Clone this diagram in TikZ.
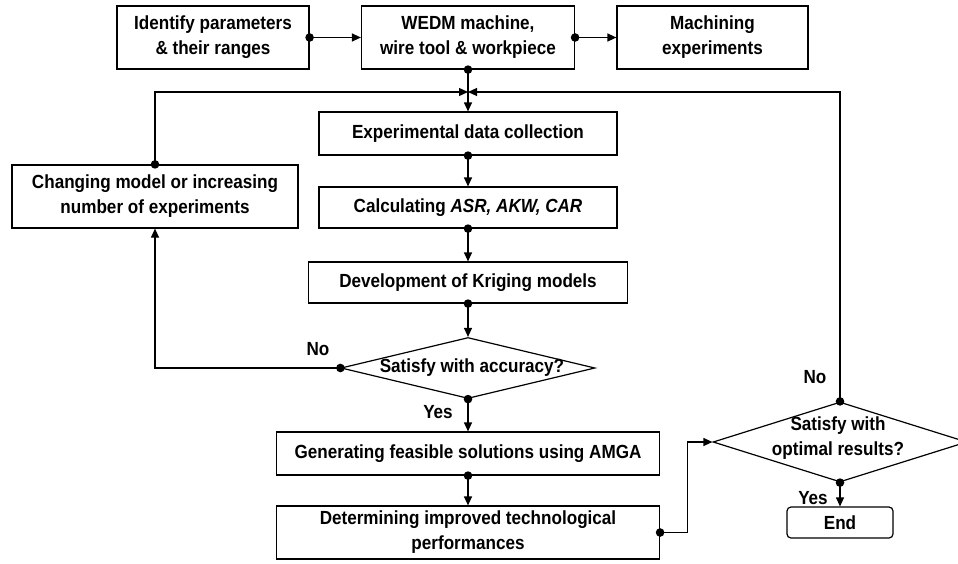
\documentclass[tikz,border=0pt]{standalone}
\usepackage{fontspec}
\setmainfont{Liberation Sans}[FakeStretch=0.9]
\usetikzlibrary{arrows.meta,shapes.geometric,calc}
\tikzset{
  box/.style={draw, line width=1.2pt, fill=white, inner sep=0pt, align=center,
    font=\fontsize{19}{25}\selectfont\bfseries},
  lbl/.style={inner sep=0pt, font=\fontsize{19}{25}\selectfont\bfseries},
  dia/.style={draw, diamond, line width=1.2pt, inner sep=0pt},
  conn/.style={line width=1.2pt, -{Triangle[length=9pt,width=8pt]}},
}
\newcommand{\jdot}[1]{\fill #1 circle (4.3pt);}
\begin{document}
\begin{tikzpicture}[x=1pt,y=-1pt]
\useasboundingbox (0,0) rectangle (958,563);
% top row
\node[box, minimum width=192pt, minimum height=63pt] (b1) at (213,37.5) {Identify parameters\\\& their ranges};
\node[box, minimum width=213pt, minimum height=63pt] (b2) at (468,37.5) {WEDM machine,\\wire tool \& workpiece};
\node[box, minimum width=191pt, minimum height=63pt] (b3) at (712.5,37.5) {Machining\\experiments};
% central column
\node[box, minimum width=298pt, minimum height=43pt] (exp) at (468,133.5) {Experimental data collection};
\node[box, minimum width=298pt, minimum height=41pt] (calc) at (468,207.5) {Calculating \textit{ASR, AKW, CAR}};
\node[box, minimum width=319pt, minimum height=41pt] (dev) at (468,282.5) {Development of Kriging models};
\node[dia, minimum width=254pt, minimum height=61pt] (d1) at (468,368) {};
\node[lbl] (d1t) at (472,368) {Satisfy with accuracy?};
\node[box, minimum width=286pt, minimum height=63pt] (chg) at (155,196.5) {Changing model or increasing\\number of experiments};
\node[box, minimum width=383pt, minimum height=43pt] (gen) at (468,453.5) {Generating feasible solutions using AMGA};
\node[box, minimum width=383pt, minimum height=53pt] (det) at (468,532.5) {Determining improved technological\\performances};
\node[dia, minimum width=254pt, minimum height=80pt] (d2) at (840,442) {};
\node[lbl, align=center] (d2t) at (838,438) {Satisfy with\\optimal results?};
\node[box, rounded corners=4pt, minimum width=106pt, minimum height=31pt] (end) at (840,522.5) {End};
% labels
\node[lbl] (no1) at (318,349) {No};
\node[lbl] (yes1) at (438,412) {Yes};
\node[lbl] (no2) at (815,377) {No};
\node[lbl] (yes2) at (813,498) {Yes};
% junction
\coordinate (jn) at (468,92);
% connectors
\draw[conn] (b1.east) -- (b2.west);
\draw[conn] (b2.east) -- (b3.west);
\draw[conn] (b2.south) -- (exp.north);
\draw[conn] (chg.north) |- (jn);
\draw[conn] (d2.north) |- (jn);
\draw[conn] (exp.south) -- (calc.north);
\draw[conn] (calc.south) -- (dev.north);
\draw[conn] (dev.south) -- (d1.north);
\draw[conn] (d1.west) -| (chg.south);
\draw[conn] (d1.south) -- (gen.north);
\draw[conn] (gen.south) -- (det.north);
\draw[conn] (det.east) -- ++(27,0) |- (d2.west);
\draw[conn] (d2.south) -- (end.north);
% dots
\jdot{(b1.east)}
\jdot{(b2.east)}
\jdot{(b2.south)}
\jdot{(chg.north)}
\jdot{(d2.north)}
\jdot{(exp.south)}
\jdot{(calc.south)}
\jdot{(dev.south)}
\jdot{(d1.west)}
\jdot{(d1.south)}
\jdot{(gen.south)}
\jdot{(det.east)}
\jdot{(d2.south)}
\end{tikzpicture}
\end{document}
